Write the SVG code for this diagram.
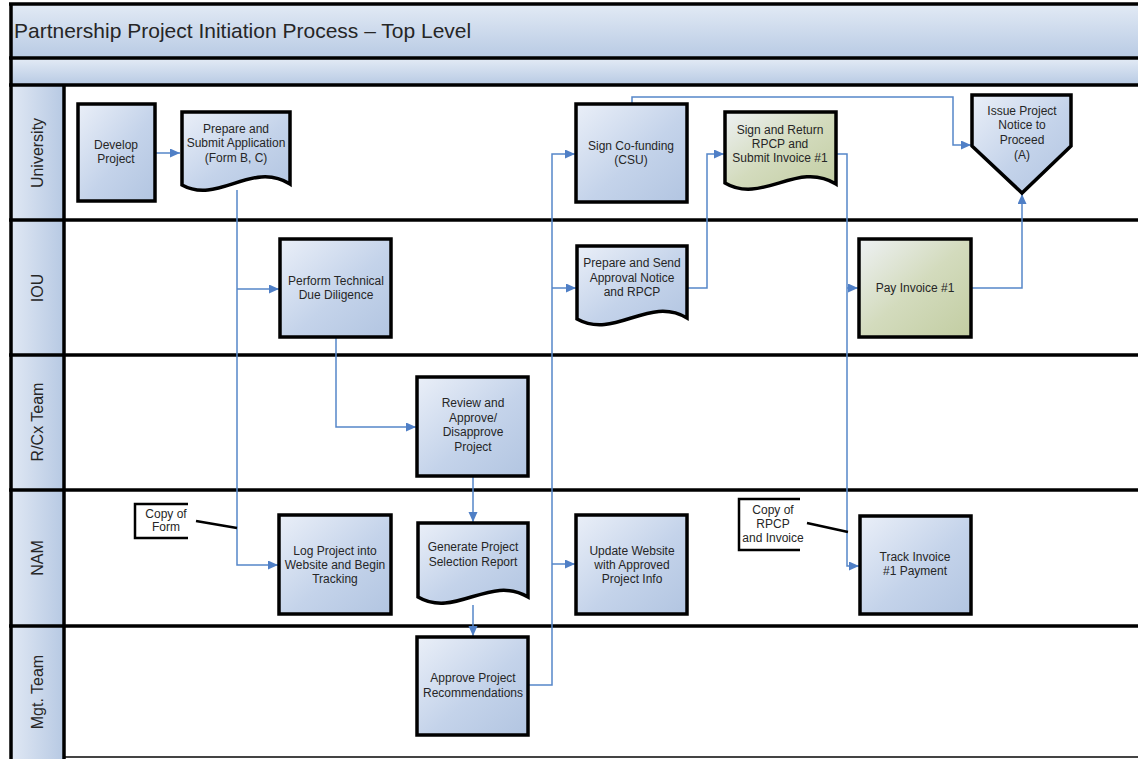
<svg xmlns="http://www.w3.org/2000/svg" width="1138" height="759" viewBox="0 0 1138 759">
  <defs>
    <linearGradient id="gBand" x1="0" y1="0" x2="0" y2="1">
      <stop offset="0" stop-color="#e2eaf5"/>
      <stop offset="1" stop-color="#b9cbe4"/>
    </linearGradient>
    <linearGradient id="gCol" x1="0" y1="0" x2="1" y2="0">
      <stop offset="0" stop-color="#e0e8f4"/>
      <stop offset="1" stop-color="#b7c9e3"/>
    </linearGradient>
    <linearGradient id="gBlue" x1="0" y1="0" x2="1" y2="1">
      <stop offset="0" stop-color="#eaeff8"/>
      <stop offset="0.55" stop-color="#c4d3ea"/>
      <stop offset="1" stop-color="#b2c5e1"/>
    </linearGradient>
    <linearGradient id="gGreen" x1="0" y1="0" x2="1" y2="1">
      <stop offset="0" stop-color="#eef1f4"/>
      <stop offset="0.5" stop-color="#d3dbbd"/>
      <stop offset="1" stop-color="#c2cda2"/>
    </linearGradient>
    <marker id="arrow" markerUnits="userSpaceOnUse" markerWidth="11" markerHeight="10" refX="10" refY="4.5" orient="auto">
      <path d="M0,0 L10,4.5 L0,9 Z" fill="#4f7fc6"/>
    </marker>
    <style>
      .line { stroke: #000; stroke-width: 3.5; fill: none; }
      .box { fill: url(#gBlue); stroke: #000; stroke-width: 3.5; }
      .box.green { fill: url(#gGreen); }
      .txt { font-family: "Liberation Sans", Arial, sans-serif; font-size: 12px; fill: #262626; text-anchor: middle; }
      .lane { font-family: "Liberation Sans", Arial, sans-serif; font-size: 16px; fill: #262626; text-anchor: middle; }
      .title { font-family: "Liberation Sans", Arial, sans-serif; font-size: 21px; fill: #262626; }
      .conn { fill: none; stroke: #5586c9; stroke-width: 1.5; }
      .note { fill: none; stroke: #000; stroke-width: 2.5; }
    </style>
  </defs>

  <rect width="1138" height="759" fill="#ffffff"/>

  <!-- header bands -->
  <g id="header">
    <rect x="11" y="4" width="1130" height="53" fill="url(#gBand)"/>
    <rect x="11" y="59" width="1130" height="25" fill="url(#gBand)"/>
    <text class="title" x="14" y="38">Partnership Project Initiation Process – Top Level</text>
  </g>

  <!-- swimlane frame -->
  <g id="lanes">
    <rect x="11" y="86" width="53" height="673" fill="url(#gCol)"/>
    <line class="line" x1="9" y1="4" x2="1138" y2="4"/>
    <line class="line" x1="9" y1="58" x2="1138" y2="58"/>
    <line class="line" x1="9" y1="85" x2="1138" y2="85"/>
    <line class="line" x1="9" y1="220" x2="1138" y2="220"/>
    <line class="line" x1="9" y1="355" x2="1138" y2="355"/>
    <line class="line" x1="9" y1="490" x2="1138" y2="490"/>
    <line class="line" x1="9" y1="626" x2="1138" y2="626"/>
    <line x1="64" y1="757" x2="1138" y2="757" stroke="#444" stroke-width="2"/>
    <line class="line" x1="11" y1="3" x2="11" y2="759"/>
    <line class="line" x1="64" y1="84" x2="64" y2="759"/>
    <text class="lane" transform="translate(43,153) rotate(-90)">University</text>
    <text class="lane" transform="translate(43,288) rotate(-90)">IOU</text>
    <text class="lane" transform="translate(43,422) rotate(-90)">R/Cx Team</text>
    <text class="lane" transform="translate(43,558) rotate(-90)">NAM</text>
    <text class="lane" transform="translate(43,692) rotate(-90)">Mgt. Team</text>
  </g>

  <!-- connectors -->
  <g id="connectors">
    <path class="conn" d="M156,153 H180" marker-end="url(#arrow)"/>
    <path class="conn" d="M237,190 V565 H278" marker-end="url(#arrow)"/>
    <path class="conn" d="M237,289 H279" marker-end="url(#arrow)"/>
    <path class="conn" d="M336,337 V427 H416" marker-end="url(#arrow)"/>
    <path class="conn" d="M473,476 V522" marker-end="url(#arrow)"/>
    <path class="conn" d="M473,605 V636" marker-end="url(#arrow)"/>
    <path class="conn" d="M528,685 H552 V154 H575" marker-end="url(#arrow)"/>
    <path class="conn" d="M552,288 H576" marker-end="url(#arrow)"/>
    <path class="conn" d="M552,564 H575" marker-end="url(#arrow)"/>
    <path class="conn" d="M632,104 V97 H953 V145 H971" marker-end="url(#arrow)"/>
    <path class="conn" d="M687,288 H707 V154 H724" marker-end="url(#arrow)"/>
    <path class="conn" d="M836,154 H847 V566 H859" marker-end="url(#arrow)"/>
    <path class="conn" d="M847,288 H858" marker-end="url(#arrow)"/>
    <path class="conn" d="M972,288 H1022 V194" marker-end="url(#arrow)"/>
  </g>

  <!-- University lane -->
  <g id="develop-project">
    <rect class="box" x="78" y="104" width="77" height="97"/>
    <text class="txt" x="116" y="149">Develop</text>
    <text class="txt" x="116" y="163">Project</text>
  </g>
  <g id="prepare-submit-application">
    <path class="box" d="M182,112 H290 V184 C252,160 218,205 182,185 Z"/>
    <text class="txt" x="236" y="133">Prepare and</text>
    <text class="txt" x="236" y="147">Submit Application</text>
    <text class="txt" x="236" y="162">(Form B, C)</text>
  </g>
  <g id="sign-cofunding">
    <rect class="box" x="576" y="104" width="111" height="98"/>
    <text class="txt" x="631" y="150">Sign Co-funding</text>
    <text class="txt" x="631" y="164">(CSU)</text>
  </g>
  <g id="sign-return-rpcp">
    <path class="box green" d="M725,112 H836 V184 C797,160 762,205 725,183 Z"/>
    <text class="txt" x="780" y="134">Sign and Return</text>
    <text class="txt" x="780" y="148">RPCP and</text>
    <text class="txt" x="780" y="162">Submit Invoice #1</text>
  </g>
  <g id="issue-notice">
    <path class="box" d="M972,95 H1071 V146 L1022,193 L972,146 Z"/>
    <text class="txt" x="1022" y="115">Issue Project</text>
    <text class="txt" x="1022" y="129">Notice to</text>
    <text class="txt" x="1022" y="144">Proceed</text>
    <text class="txt" x="1022" y="159">(A)</text>
  </g>

  <!-- IOU lane -->
  <g id="technical-due-diligence">
    <rect class="box" x="280" y="239" width="111" height="98"/>
    <text class="txt" x="336" y="285">Perform Technical</text>
    <text class="txt" x="336" y="299">Due Diligence</text>
  </g>
  <g id="prepare-send-approval">
    <path class="box" d="M577,246 H687 V318 C649,295 615,340 577,319 Z"/>
    <text class="txt" x="632" y="267">Prepare and Send</text>
    <text class="txt" x="632" y="282">Approval Notice</text>
    <text class="txt" x="632" y="296">and RPCP</text>
  </g>
  <g id="pay-invoice">
    <rect class="box green" x="859" y="239" width="112" height="98"/>
    <text class="txt" x="915" y="292">Pay Invoice #1</text>
  </g>

  <!-- R/Cx Team lane -->
  <g id="review-approve">
    <rect class="box" x="417" y="377" width="111" height="99"/>
    <text class="txt" x="473" y="407">Review and</text>
    <text class="txt" x="473" y="422">Approve/</text>
    <text class="txt" x="473" y="436">Disapprove</text>
    <text class="txt" x="473" y="451">Project</text>
  </g>

  <!-- NAM lane -->
  <g id="copy-of-form">
    <path class="note" d="M188,504 H135 V538 H188"/>
    <line class="note" x1="196" y1="521" x2="237" y2="528"/>
    <text class="txt" x="166" y="518">Copy of</text>
    <text class="txt" x="166" y="531">Form</text>
  </g>
  <g id="log-project">
    <rect class="box" x="279" y="515" width="112" height="99"/>
    <text class="txt" x="335" y="555">Log Project into</text>
    <text class="txt" x="335" y="569">Website and Begin</text>
    <text class="txt" x="335" y="583">Tracking</text>
  </g>
  <g id="selection-report">
    <path class="box" d="M418,523 H528 V597 C490,574 455,619 418,597 Z"/>
    <text class="txt" x="473" y="551">Generate Project</text>
    <text class="txt" x="473" y="566">Selection Report</text>
  </g>
  <g id="update-website">
    <rect class="box" x="576" y="515" width="111" height="99"/>
    <text class="txt" x="632" y="555">Update Website</text>
    <text class="txt" x="632" y="569">with Approved</text>
    <text class="txt" x="632" y="583">Project Info</text>
  </g>
  <g id="copy-of-rpcp">
    <path class="note" d="M800,499 H739 V550 H800"/>
    <line class="note" x1="807" y1="523" x2="848" y2="532"/>
    <text class="txt" x="773" y="514">Copy of</text>
    <text class="txt" x="773" y="528">RPCP</text>
    <text class="txt" x="773" y="542">and Invoice</text>
  </g>
  <g id="track-invoice">
    <rect class="box" x="860" y="516" width="111" height="98"/>
    <text class="txt" x="915" y="561">Track Invoice</text>
    <text class="txt" x="915" y="575">#1 Payment</text>
  </g>

  <!-- Mgt. Team lane -->
  <g id="approve-recommendations">
    <rect class="box" x="417" y="637" width="111" height="98"/>
    <text class="txt" x="473" y="682">Approve Project</text>
    <text class="txt" x="473" y="697">Recommendations</text>
  </g>
</svg>
